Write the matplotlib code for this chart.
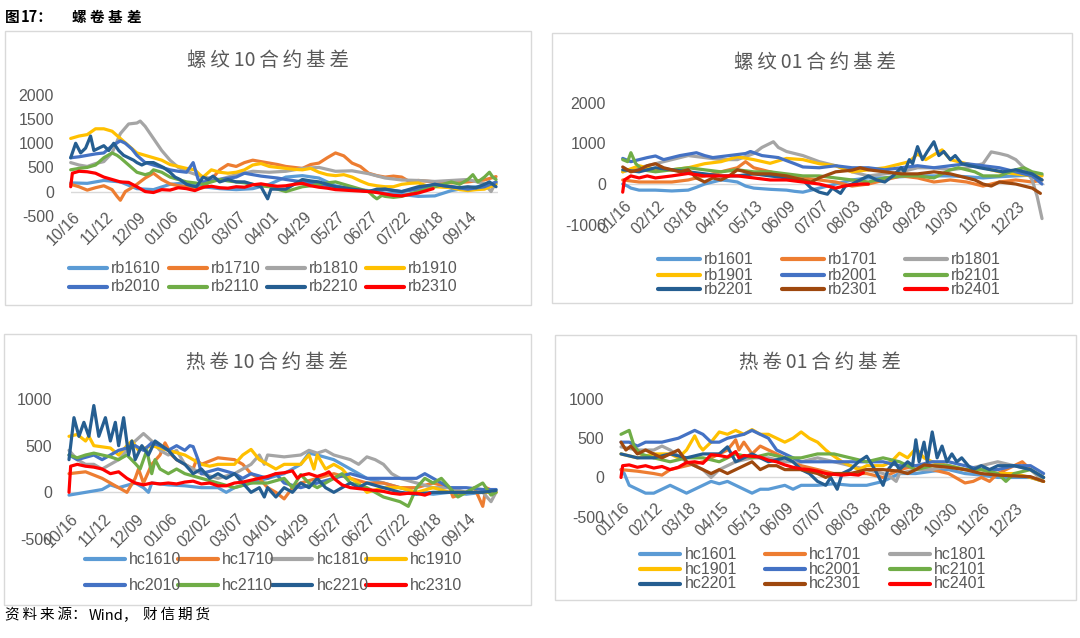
import matplotlib
matplotlib.use("Agg")
import matplotlib.pyplot as plt
from matplotlib.lines import Line2D
from matplotlib.patches import Rectangle
from matplotlib.transforms import blended_transform_factory

# ---------------- data (index = trading-day position, value = basis) ----------------
rb10_labels = ["10/16", "11/12", "12/09", "01/06", "02/02", "03/07", "04/01",
               "04/29", "05/27", "06/27", "07/22", "08/18", "09/14"]
rb01_labels = ["01/16", "02/12", "03/18", "04/15", "05/13", "06/09", "07/07",
               "08/03", "08/28", "09/28", "10/30", "11/26", "12/23"]

rb1610 = [(0,180),(10,170),(20,230),(30,200),(40,60),(50,40),(60,150),(70,180),(80,100),(90,60),(100,40),(110,60),(120,150),(130,300),(140,330),(150,280),(160,120),(170,50),(180,20),(190,-30),(200,-60),(210,-100),(220,-90),(230,20),(240,80),(250,120),(257,170)]
rb1710 = [(0,150),(5,100),(10,30),(15,80),(20,120),(25,40),(28,-100),(30,-180),(33,0),(36,60),(40,150),(45,280),(50,380),(55,250),(60,160),(65,120),(70,100),(75,60),(80,80),(85,250),(90,450),(95,560),(100,520),(105,600),(110,650),(115,620),(120,590),(125,560),(130,520),(135,500),(140,480),(145,560),(150,590),(155,700),(160,800),(165,740),(170,590),(175,520),(180,380),(185,330),(190,300),(195,320),(200,300),(205,200),(210,230),(220,200),(230,180),(240,200),(250,240),(257,310)]
rb1810 = [(0,600),(5,550),(10,520),(15,580),(20,620),(25,800),(30,1200),(35,1400),(40,1420),(42,1460),(45,1350),(50,1100),(55,850),(60,650),(65,500),(70,420),(80,300),(90,250),(100,350),(110,420),(120,400),(130,420),(140,480),(150,500),(160,420),(170,430),(180,370),(190,280),(200,240),(210,230),(220,210),(230,230),(240,250),(250,160),(254,0),(257,200)]
rb1910 = [(0,1100),(5,1150),(10,1180),(15,1300),(20,1300),(25,1250),(30,1100),(35,950),(40,800),(45,750),(50,700),(55,650),(60,560),(65,520),(70,480),(75,450),(78,350),(80,300),(85,450),(90,400),(95,380),(100,400),(105,450),(110,550),(115,580),(120,520),(125,500),(130,480),(135,460),(140,450),(145,480),(150,400),(155,350),(160,330),(165,350),(170,300),(175,220),(180,150),(185,120),(190,100),(195,100),(200,150),(205,170),(210,180),(215,120),(220,100),(225,90),(230,80),(235,40),(240,20),(245,40),(250,50),(257,150)]
rb2010 = [(0,700),(5,720),(10,750),(15,780),(20,800),(25,950),(30,1050),(33,1000),(37,880),(40,750),(45,600),(50,550),(55,500),(60,450),(65,420),(70,400),(74,600),(77,250),(80,200),(85,220),(90,250),(100,300),(105,380),(110,350),(115,320),(120,300),(125,280),(130,250),(140,200),(150,150),(160,100),(170,50),(180,0),(190,50),(200,0),(210,50),(220,150),(230,100),(240,50),(250,100),(257,200)]
rb2110 = [(0,450),(5,480),(10,500),(15,550),(20,700),(25,800),(28,750),(30,700),(35,550),(40,400),(45,350),(48,380),(50,450),(55,400),(60,300),(65,250),(70,200),(75,180),(80,150),(85,200),(90,250),(95,220),(100,200),(105,180),(110,150),(115,120),(120,100),(125,50),(130,0),(135,50),(140,100),(145,120),(150,150),(155,180),(160,200),(165,150),(170,100),(175,50),(180,0),(183,-100),(185,-150),(188,-80),(190,-100),(195,-120),(200,-100),(205,-50),(210,0),(215,50),(220,100),(225,150),(230,200),(235,150),(240,250),(243,350),(246,200),(250,300),(253,400),(255,300),(257,250)]
rb2210 = [(0,700),(3,1000),(6,800),(9,900),(12,1150),(14,850),(17,900),(20,950),(23,850),(26,1000),(29,850),(32,750),(35,700),(38,650),(40,600),(43,550),(46,600),(50,600),(53,550),(56,500),(60,400),(63,300),(66,250),(70,150),(73,120),(76,100),(80,300),(83,250),(86,320),(90,200),(95,250),(100,200),(105,200),(110,150),(115,100),(119,-150),(121,50),(125,50),(130,50),(135,150),(140,250),(145,220),(150,200),(155,150),(160,100),(165,80),(170,50),(175,30),(180,0),(185,50),(190,50),(195,20),(200,0),(205,50),(210,100),(215,120),(220,150),(225,120),(230,100),(235,80),(240,100),(245,80),(250,150),(253,200),(257,100)]
rb2310 = [(0,100),(1,380),(5,420),(10,410),(15,380),(20,300),(25,250),(30,200),(35,190),(40,100),(45,0),(50,-20),(55,40),(60,30),(65,80),(70,60),(75,20),(80,90),(85,110),(90,80),(95,70),(100,100),(105,90),(110,140),(115,160),(120,130),(125,110),(130,120),(135,150),(140,170),(145,120),(150,90),(155,70),(160,40),(165,30),(170,20),(175,10),(180,0),(185,-20),(190,-50),(195,-80),(200,-90),(205,-60),(210,-30),(215,20),(219,60)]

rb1601 = [(0,0),(3,-50),(5,-100),(10,-150),(20,-150),(30,-170),(40,-150),(45,-80),(50,0),(55,50),(60,100),(65,80),(70,50),(75,-50),(80,-100),(90,-130),(100,-150),(105,-180),(110,-200),(115,-150),(120,-100),(125,-50),(130,0),(140,100),(150,150),(160,150),(170,180),(180,200),(190,200),(200,200),(210,180),(220,150),(230,180),(240,200),(250,220),(256,220)]
rb1701 = [(0,100),(10,50),(20,50),(30,50),(40,100),(50,200),(60,300),(70,400),(75,550),(80,400),(90,300),(100,200),(110,150),(120,100),(130,50),(140,-50),(150,0),(160,100),(170,200),(180,150),(190,50),(200,100),(210,50),(220,-50),(230,50),(240,100),(250,50),(256,100)]
rb1801 = [(0,300),(10,400),(20,500),(30,600),(40,700),(50,650),(60,600),(70,600),(80,750),(85,900),(92,1040),(95,900),(100,800),(110,700),(120,550),(130,450),(140,300),(150,200),(160,250),(170,300),(180,400),(190,400),(200,350),(210,400),(220,500),(225,790),(230,750),(235,700),(240,600),(245,400),(250,100),(253,-300),(256,-850)]
rb1901 = [(0,300),(10,450),(20,350),(30,350),(40,400),(50,500),(60,550),(70,670),(80,600),(90,510),(100,630),(110,600),(120,500),(130,450),(140,300),(150,350),(160,400),(170,500),(175,550),(180,740),(185,600),(195,840),(200,600),(210,500),(220,400),(230,300),(240,250),(250,200),(256,200)]
rb2001 = [(0,630),(5,550),(10,600),(15,650),(20,690),(25,600),(30,650),(35,700),(45,770),(50,700),(55,650),(65,700),(75,750),(78,800),(85,700),(95,650),(105,500),(110,420),(120,400),(130,450),(140,400),(150,400),(160,350),(170,400),(180,450),(190,400),(200,450),(210,500),(220,450),(230,400),(240,300),(250,200),(256,0)]
rb2101 = [(0,600),(3,550),(5,770),(8,500),(12,350),(20,300),(30,350),(40,400),(50,350),(60,300),(70,350),(80,300),(90,300),(100,250),(110,200),(120,200),(130,150),(140,100),(150,50),(160,150),(170,200),(180,200),(190,150),(195,250),(200,350),(205,400),(210,350),(215,300),(220,200),(230,200),(240,350),(245,400),(250,300),(256,250)]
rb2201 = [(0,350),(10,300),(20,400),(30,350),(40,300),(50,250),(60,200),(70,200),(80,250),(90,200),(100,150),(110,100),(115,-100),(120,-200),(125,-250),(128,-100),(133,-230),(136,-50),(140,0),(145,100),(150,200),(155,100),(160,50),(165,200),(170,400),(172,300),(175,600),(177,500),(180,920),(183,600),(186,800),(190,1040),(193,700),(196,800),(200,600),(203,700),(207,500),(212,450),(218,400),(225,350),(232,300),(240,350),(245,300),(250,250),(256,100)]
rb2301 = [(0,420),(5,300),(10,350),(15,450),(20,500),(25,400),(30,350),(35,300),(40,350),(45,150),(50,50),(55,150),(60,100),(65,200),(70,350),(80,250),(90,250),(100,200),(110,100),(115,50),(120,150),(130,300),(140,340),(145,400),(150,350),(160,300),(170,250),(180,250),(190,300),(200,250),(210,150),(215,100),(220,0),(225,-50),(230,50),(240,0),(245,-50),(250,-100),(255,-230)]
rb2401 = [(0,-200),(1,100),(5,200),(10,150),(15,200),(20,150),(30,200),(40,260),(50,200),(60,200),(70,200),(80,150),(90,100),(100,100),(110,50),(120,0),(125,-50),(130,-100),(135,-50),(140,-20),(145,0),(150,0)]

hc1610 = [(0,-30),(10,0),(20,30),(25,80),(30,50),(40,100),(45,50),(48,0),(50,100),(60,80),(70,70),(80,50),(90,50),(95,0),(100,50),(110,100),(120,150),(130,200),(140,300),(145,420),(150,400),(160,350),(170,250),(180,150),(190,100),(200,50),(210,0),(220,-20),(230,0),(240,-20),(250,0),(258,30)]
hc1710 = [(0,200),(10,220),(20,150),(25,100),(30,50),(35,0),(40,150),(42,250),(45,100),(50,300),(55,400),(58,530),(62,400),(65,350),(70,300),(75,250),(77,350),(80,300),(90,370),(100,350),(105,300),(110,200),(115,150),(120,50),(125,0),(130,-70),(135,50),(140,100),(150,150),(160,200),(170,150),(180,100),(190,100),(200,50),(210,50),(220,100),(230,50),(232,-50),(240,0),(245,50),(250,-150),(252,50),(258,0)]
hc1810 = [(0,450),(5,350),(10,300),(15,300),(20,250),(30,350),(35,450),(40,550),(45,630),(50,550),(55,450),(60,400),(65,450),(70,300),(80,200),(90,150),(100,200),(105,250),(110,300),(115,400),(118,300),(120,400),(130,380),(140,400),(145,450),(150,420),(155,450),(160,400),(170,350),(175,300),(180,380),(185,350),(190,300),(195,200),(200,150),(210,100),(220,50),(230,50),(240,0),(250,0),(255,-100),(258,0)]
hc1910 = [(0,600),(5,620),(10,550),(12,600),(15,500),(25,475),(30,400),(35,500),(38,550),(42,450),(50,500),(60,450),(70,400),(80,300),(85,280),(90,300),(100,300),(105,400),(110,460),(115,350),(120,300),(125,250),(130,300),(140,300),(145,400),(148,250),(150,400),(155,250),(160,300),(165,250),(170,150),(175,100),(180,0),(190,50),(200,50),(210,0),(220,50),(230,0),(240,0),(250,0),(258,0)]
hc2010 = [(0,400),(5,350),(15,400),(20,350),(25,400),(30,450),(40,500),(45,450),(50,530),(55,500),(60,450),(65,500),(70,450),(73,500),(75,490),(78,350),(80,200),(90,250),(100,200),(105,150),(110,200),(120,150),(125,200),(130,100),(140,50),(150,100),(160,150),(170,200),(180,150),(190,150),(200,150),(210,150),(215,200),(220,150),(225,100),(230,50),(240,50),(250,30),(258,30)]
hc2110 = [(0,400),(5,370),(10,400),(15,420),(20,400),(25,380),(30,350),(35,400),(40,310),(43,250),(47,450),(50,200),(52,350),(55,250),(60,200),(65,250),(70,200),(80,150),(90,100),(100,50),(110,100),(120,100),(130,150),(135,50),(140,190),(145,100),(150,50),(160,150),(165,200),(170,100),(180,50),(190,-50),(200,-100),(205,-150),(210,50),(215,150),(220,100),(225,150),(230,50),(235,-50),(240,0),(245,50),(250,100),(255,-30),(258,0)]
hc2210 = [(0,350),(3,800),(6,600),(9,750),(12,600),(15,930),(18,600),(22,800),(25,550),(28,750),(30,500),(33,800),(36,400),(38,550),(40,350),(44,500),(48,400),(52,550),(56,500),(60,450),(65,350),(70,300),(75,200),(80,250),(85,150),(90,200),(95,150),(100,200),(105,100),(110,0),(115,50),(118,-50),(120,50),(125,-50),(130,50),(135,0),(140,100),(145,50),(150,150),(155,50),(160,0),(165,50),(170,100),(175,50),(180,100),(190,50),(200,0),(210,-20),(220,0),(230,0),(240,0),(250,0),(258,20)]
hc2310 = [(0,0),(1,280),(5,300),(10,280),(15,270),(20,250),(25,200),(30,220),(35,150),(40,100),(45,80),(50,100),(55,90),(60,100),(65,90),(70,110),(75,120),(80,90),(85,100),(90,70),(95,70),(100,100),(105,110),(110,130),(115,150),(120,170),(125,200),(130,210),(135,230),(138,150),(140,180),(145,200),(150,170),(155,200),(157,220),(160,150),(165,80),(170,50),(175,40),(180,30),(185,20),(190,10),(195,-10),(200,-20),(205,-10),(210,-10),(215,-30),(218,-10)]

hc1601 = [(0,100),(2,50),(5,-100),(10,-150),(15,-200),(20,-200),(25,-150),(30,-100),(35,-150),(40,-200),(45,-150),(50,-100),(55,-50),(60,-80),(65,-50),(70,-100),(75,-150),(80,-200),(85,-150),(90,-150),(100,-100),(105,-150),(110,-100),(120,-100),(130,-80),(140,-100),(150,-100),(160,-50),(165,0),(170,50),(180,50),(190,80),(200,100),(210,50),(220,30),(230,0),(240,0),(250,0),(258,-50)]
hc1701 = [(0,100),(10,80),(20,50),(25,30),(30,100),(40,150),(50,200),(60,300),(65,350),(70,480),(72,350),(75,450),(80,300),(85,400),(90,350),(95,300),(100,250),(105,200),(110,150),(120,100),(130,50),(140,50),(150,50),(160,0),(170,100),(180,150),(190,100),(200,50),(210,-70),(215,-50),(220,0),(225,-50),(230,50),(240,150),(245,200),(250,100),(258,0)]
hc1801 = [(0,390),(10,350),(20,350),(25,400),(30,350),(40,200),(50,100),(55,0),(60,100),(65,150),(70,200),(80,250),(90,250),(100,200),(110,200),(120,250),(130,200),(140,150),(150,100),(160,50),(165,0),(168,-50),(170,50),(180,100),(190,100),(200,150),(210,100),(220,150),(230,200),(240,150),(250,100),(258,-50)]
hc1901 = [(0,300),(10,250),(20,300),(30,300),(35,250),(40,350),(45,530),(48,400),(50,350),(55,450),(60,580),(65,550),(70,600),(75,550),(80,610),(85,550),(90,550),(95,500),(100,450),(105,500),(110,580),(115,500),(120,450),(125,350),(128,300),(135,200),(140,150),(145,100),(150,150),(160,150),(165,200),(170,310),(175,250),(180,370),(185,250),(190,200),(200,150),(210,100),(220,100),(230,50),(240,50),(250,0),(258,-50)]
hc2001 = [(0,450),(5,450),(10,400),(15,450),(25,450),(35,500),(40,550),(45,600),(50,550),(55,450),(60,450),(65,500),(75,550),(80,600),(85,550),(90,500),(95,350),(100,300),(105,250),(110,200),(120,200),(130,200),(140,200),(150,200),(160,200),(170,150),(180,150),(190,200),(200,200),(210,150),(220,100),(230,100),(240,150),(250,150),(258,50)]
hc2101 = [(0,550),(5,600),(8,400),(12,300),(20,250),(30,200),(40,250),(50,250),(60,200),(70,300),(80,250),(90,300),(100,250),(110,250),(120,300),(130,300),(140,250),(150,200),(160,250),(170,200),(180,100),(190,150),(200,150),(210,100),(220,100),(230,50),(235,-50),(240,50),(250,100),(258,0)]
hc2201 = [(0,300),(10,250),(20,250),(30,300),(40,250),(50,300),(60,300),(65,390),(70,200),(80,300),(90,200),(100,250),(105,200),(110,100),(115,50),(120,-50),(125,-100),(128,0),(132,-150),(135,50),(140,100),(145,200),(150,270),(155,100),(160,-100),(163,100),(167,200),(170,100),(175,200),(178,150),(180,480),(182,200),(185,450),(187,200),(190,580),(193,250),(196,400),(199,200),(202,300),(205,200),(208,250),(212,150),(215,100),(220,150),(225,100),(230,150),(240,150),(250,100),(258,0)]
hc2301 = [(0,450),(3,350),(6,400),(10,300),(15,350),(20,300),(25,250),(30,300),(35,350),(40,200),(45,150),(50,100),(55,50),(60,100),(65,50),(70,100),(75,150),(80,200),(85,100),(90,150),(95,150),(100,100),(110,100),(120,50),(125,0),(130,50),(140,50),(150,100),(160,100),(170,80),(175,50),(180,100),(185,160),(190,150),(200,130),(210,100),(220,50),(230,30),(240,20),(250,10),(258,-50)]
hc2401 = [(0,0),(1,150),(5,160),(10,130),(15,150),(20,120),(25,140),(30,100),(35,130),(40,190),(45,200),(50,180),(55,290),(60,280),(65,260),(70,330),(72,250),(75,280),(80,270),(85,260),(90,220),(95,200),(100,160),(105,130),(110,110),(115,100),(120,80),(125,50),(130,40),(135,30),(140,40),(145,30),(148,60)]

# ---------------- styling ----------------
C_LBLUE, C_ORANGE, C_GRAY, C_YELLOW = "#5B9BD5", "#ED7D31", "#A5A5A5", "#FFC000"
C_BLUE, C_GREEN, C_DBLUE, C_BROWN, C_RED = "#4472C4", "#70AD47", "#255E91", "#9E480E", "#FF0000"
TXT = "#595959"
CJK = ["Noto Sans CJK SC", "DejaVu Sans"]
NUM = "Liberation Sans"
TS = "\u2009"

W, H = 1080, 638
fig = plt.figure(figsize=(W / 100, H / 100), dpi=100)
fig.patch.set_facecolor("white")

def fx(x): return x / W
def fy(y): return 1 - y / H

def spaced_title(t):
    # thin spaces between characters, keeping the two-digit month together
    out, i = [], 0
    while i < len(t):
        if t[i].isdigit():
            j = i
            while j < len(t) and t[j].isdigit():
                j += 1
            out.append(t[i:j]); i = j
        else:
            out.append(t[i]); i += 1
    return TS.join(out)

panels = [
    dict(title="螺纹10合约基差", box=(5, 31, 531, 305), ax=(70.7, 497.7, 95, 215.7),
         ylim=(-500, 2000), yticks=[-500, 0, 500, 1000, 1500, 2000], xlab=rb10_labels, xlab_y=209,
         tcx=268, tcy=60,
         series=[("rb1610", rb1610, C_LBLUE), ("rb1710", rb1710, C_ORANGE), ("rb1810", rb1810, C_GRAY),
                 ("rb1910", rb1910, C_YELLOW), ("rb2010", rb2010, C_BLUE), ("rb2110", rb2110, C_GREEN),
                 ("rb2210", rb2210, C_DBLUE), ("rb2310", rb2310, C_RED)],
         lg_cols=[69, 169, 267, 365.5], lg_len=38, lg_rows=[268.3, 286.5]),
    dict(title="螺纹01合约基差", box=(552, 33, 1072, 303), ax=(622.7, 1045.3, 102.7, 224.7),
         ylim=(-1000, 2000), yticks=[-1000, 0, 1000, 2000], xlab=rb01_labels, xlab_y=198,
         tcx=814.5, tcy=63,
         series=[("rb1601", rb1601, C_LBLUE), ("rb1701", rb1701, C_ORANGE), ("rb1801", rb1801, C_GRAY),
                 ("rb1901", rb1901, C_YELLOW), ("rb2001", rb2001, C_BLUE), ("rb2101", rb2101, C_GREEN),
                 ("rb2201", rb2201, C_DBLUE), ("rb2301", rb2301, C_BROWN), ("rb2401", rb2401, C_RED)],
         lg_cols=[657.5, 782, 905], lg_len=42, lg_rows=[259.3, 275, 289.3]),
    dict(title="热卷10合约基差", box=(3.5, 334, 531, 605), ax=(69, 496, 399, 539),
         ylim=(-500, 1000), yticks=[-500, 0, 500, 1000], xlab=rb10_labels, xlab_y=511,
         tcx=267, tcy=363,
         series=[("hc1610", hc1610, C_LBLUE), ("hc1710", hc1710, C_ORANGE), ("hc1810", hc1810, C_GRAY),
                 ("hc1910", hc1910, C_YELLOW), ("hc2010", hc2010, C_BLUE), ("hc2110", hc2110, C_GREEN),
                 ("hc2210", hc2210, C_DBLUE), ("hc2310", hc2310, C_RED)],
         lg_cols=[84.5, 177.6, 272.4, 365.5], lg_len=40, lg_rows=[559, 585]),
    dict(title="热卷01合约基差", box=(555, 335, 1076, 600), ax=(621, 1043.6, 399, 516.7),
         ylim=(-500, 1000), yticks=[-500, 0, 500, 1000], xlab=rb01_labels, xlab_y=500,
         tcx=819.6, tcy=363,
         series=[("hc1601", hc1601, C_LBLUE), ("hc1701", hc1701, C_ORANGE), ("hc1801", hc1801, C_GRAY),
                 ("hc1901", hc1901, C_YELLOW), ("hc2001", hc2001, C_BLUE), ("hc2101", hc2101, C_GREEN),
                 ("hc2201", hc2201, C_DBLUE), ("hc2301", hc2301, C_BROWN), ("hc2401", hc2401, C_RED)],
         lg_cols=[640.4, 765, 889.6], lg_len=40, lg_rows=[554.3, 569.3, 584]),
]

for p in panels:
    bx0, by0, bx1, by1 = p["box"]
    fig.add_artist(Rectangle((fx(bx0), fy(by1)), fx(bx1 - bx0), (by1 - by0) / H,
                             transform=fig.transFigure, fill=False, edgecolor="#D9D9D9", lw=1.0))
    x0, x1, yt, yb = p["ax"]
    ax = fig.add_axes([fx(x0), fy(yb), fx(x1 - x0), (yb - yt) / H])
    ax.set_xlim(0, 258)
    ax.set_ylim(*p["ylim"])
    for s in ax.spines.values():
        s.set_visible(False)
    ax.axhline(0, color="#D9D9D9", lw=1.0, zorder=0.5)
    ax.set_xticks([])
    ax.set_yticks(p["yticks"])
    ax.set_yticklabels([str(v) for v in p["yticks"]], fontfamily=NUM, fontsize=11.5, color=TXT)
    ax.tick_params(axis="y", length=0, pad=12.2)
    ax.patch.set_visible(False)

    for name, pts, col in p["series"]:
        xs = [a for a, b in pts]
        ys = [b for a, b in pts]
        ax.plot(xs, ys, color=col, lw=2.3, solid_joinstyle="round", solid_capstyle="round",
                clip_on=False, label=name)

    tr = blended_transform_factory(ax.transData, fig.transFigure)
    for i, lab in enumerate(p["xlab"]):
        ax.text(i * 20 + 1, fy(p["xlab_y"]), lab, transform=tr, rotation=45, rotation_mode="anchor",
                ha="right", va="top", fontfamily=NUM, fontsize=11.5, color=TXT)

    fig.text(fx(p["tcx"]), fy(p["tcy"]), spaced_title(p["title"]),
             ha="center", va="center", fontsize=14, color=TXT, family=CJK)

    ncol = len(p["lg_cols"])
    for k, (name, pts, col) in enumerate(p["series"]):
        r, c = divmod(k, ncol)
        lx = p["lg_cols"][c]
        ly = p["lg_rows"][r]
        fig.add_artist(Line2D([fx(lx), fx(lx + p["lg_len"])], [fy(ly), fy(ly)], transform=fig.transFigure,
                              color=col, lw=3.0, solid_capstyle="round"))
        fig.text(fx(lx + p["lg_len"] + 4), fy(ly), name, ha="left", va="center",
                 fontfamily=NUM, fontsize=11.5, color=TXT)

# header and footer
header_parts = [(5, "图"), (21, "17："), (72, "螺"), (90, "卷"), (108, "基"), (127, "差")]
for hx, htxt in header_parts:
    fig.text(fx(hx), fy(17), htxt, ha="left", va="center", fontsize=10.5,
             fontweight="bold", family=CJK, color="black")
footer_parts = [(5, TS.join("资料来源") + "："), (89, "Wind，"), (143, TS.join("财信期货"))]
for tx, ttxt in footer_parts:
    fig.text(fx(tx), fy(615), ttxt, ha="left", va="center", fontsize=10.5,
             family=CJK, color="black")

fig.savefig("out.png", dpi=100, facecolor="white")
